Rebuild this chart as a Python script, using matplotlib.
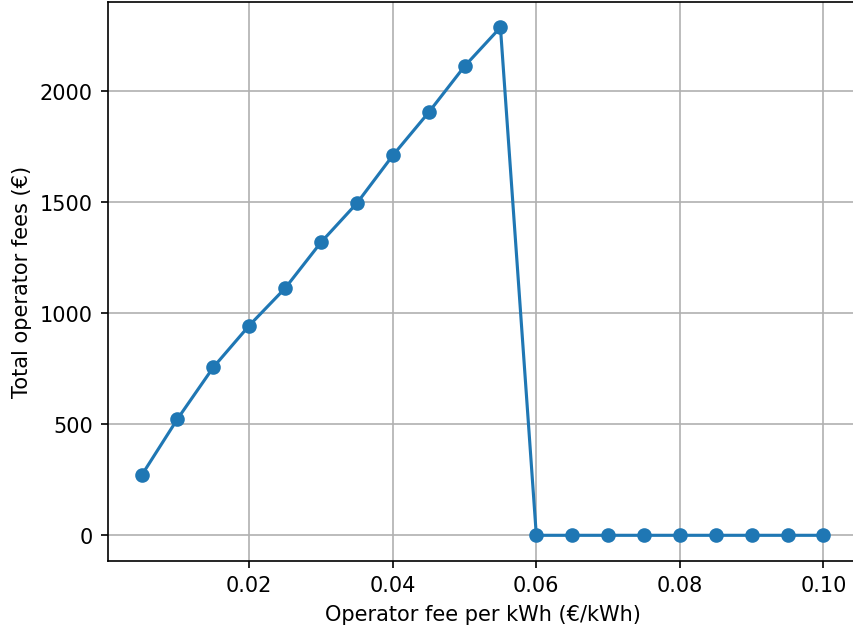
import matplotlib
matplotlib.use('Agg')
import matplotlib.pyplot as plt

fee_per_kwh = [0.005, 0.01, 0.015, 0.02, 0.025, 0.03, 0.035, 0.04, 0.045, 0.05,
               0.055, 0.06, 0.065, 0.07, 0.075, 0.08, 0.085, 0.09, 0.095, 0.1]
total_fees = [270, 524, 757, 945, 1113, 1320, 1496, 1711, 1905, 2113,
              2288, 0, 0, 0, 0, 0, 0, 0, 0, 0]

dpi = 150
W, H = 853, 632
fig = plt.figure(figsize=(W / dpi, H / dpi), dpi=dpi)
# axes box in pixels: left 107.5, right 857.5 (cropped), top 3, bottom 561.7
ax = fig.add_axes([107.5 / W, (H - 561.7) / H, 750 / W, 558.7 / H])
ax.plot(fee_per_kwh, total_fees, marker='o')
ax.set_xlabel('Operator fee per kWh (€/kWh)')
ax.set_ylabel('Total operator fees (€)')
ax.grid()
fig.savefig('out.png', dpi=dpi)
